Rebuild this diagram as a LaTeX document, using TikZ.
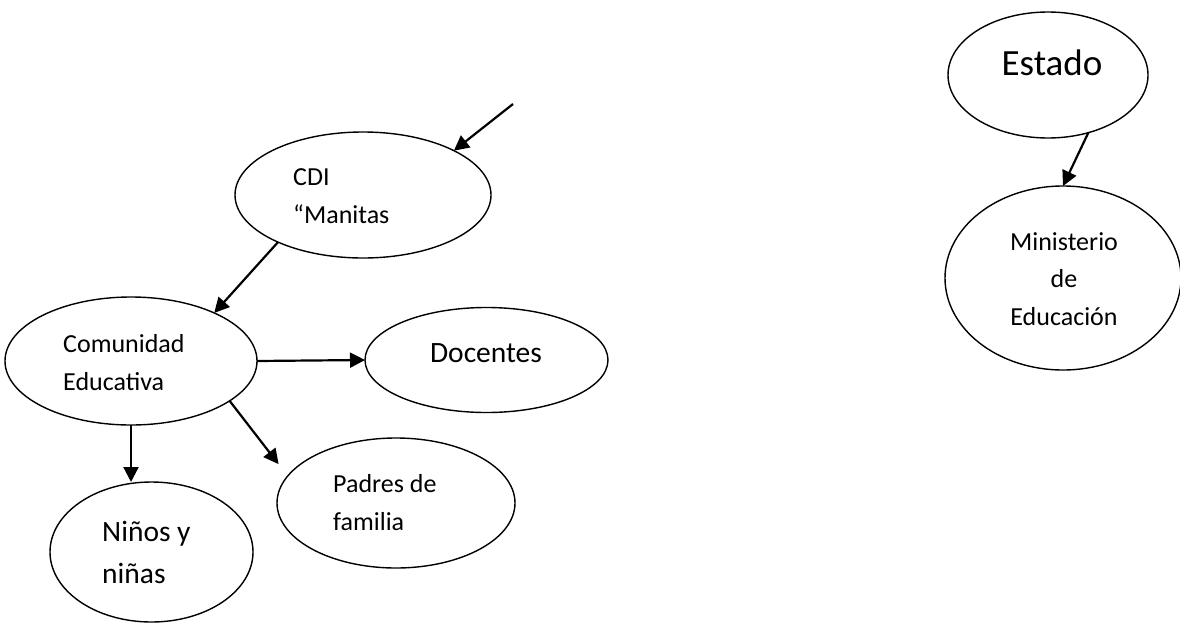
\documentclass[tikz,border=0pt]{standalone}
\usepackage{fontspec}
\setmainfont{Carlito}
\usetikzlibrary{arrows.meta,shapes.geometric}

\tikzstyle{bubble} = [shape=ellipse,draw,line width=1.4pt,inner sep=0pt,outer sep=0pt]
\tikzstyle{arrowdecorate} = [-{Triangle[length=15pt,width=15pt]},line width=2.2pt]
\tikzstyle{smalltext} = [font=\fontsize{26}{37.5}\selectfont,inner sep=0pt,anchor=base west,align=left]
\tikzstyle{bigtext} = [font=\fontsize{29.5}{41.5}\selectfont,inner sep=0pt,anchor=base west,align=left]

\begin{document}
\begin{tikzpicture}[x=1pt,y=-1pt]
      \useasboundingbox (0,0) rectangle (1180,624);

      \foreach \nodename/\x/\y/\w/\h in { cdi/363/195/256/126,
        comunidad/131/361/252/128, docentes/486.5/360/243/105, ninos/151.5/552/203/140,
        padres/396/503/238/130, estado/1048/75/200/126, ministerio/1063/278/236/184}
      {
        \node (\nodename) at (\x,\y) [bubble,minimum width=\w pt,minimum height=\h pt] {};
      }

      %% texts (placed at the baseline of the last line)
      \foreach \nodename/\x/\y/\words in { cditext/293/223/{CDI\\“Manitas},
        comunidadtext/63/390/{Comunidad\\Educativa}, padrestext/333/530/{Padres de\\familia}}
      {
        \node (\nodename) at (\x,\y) [smalltext] {\words};
      }
      \node (ninostext) at (102,583) [bigtext] {Niños y\\niñas};
      \node (docentestext) at (486,362) [bigtext,anchor=base] {Docentes};
      \node (estadotext) at (1052,75) [bigtext,anchor=base,font=\fontsize{37}{43}\selectfont] {Estado};
      \node (ministeriotext) at (1064,325) [smalltext,anchor=base,align=center] {Ministerio\\de\\Educación};

      %% edges
      \coordinate (loose) at (513,104);
      \path (loose) edge[arrowdecorate] (cdi.26.8)
        (cdi.209) edge[arrowdecorate] (comunidad.30.6)
        (comunidad.east) edge[arrowdecorate] (docentes.west)
        (comunidad.south) edge[arrowdecorate] (comunidad.south |- ninos.north)
        (comunidad.-22) edge[arrowdecorate,shorten >=15pt] (padres.166.6)
        (estado.-55) edge[arrowdecorate] (ministerio.north);
    \end{tikzpicture}
\end{document}
